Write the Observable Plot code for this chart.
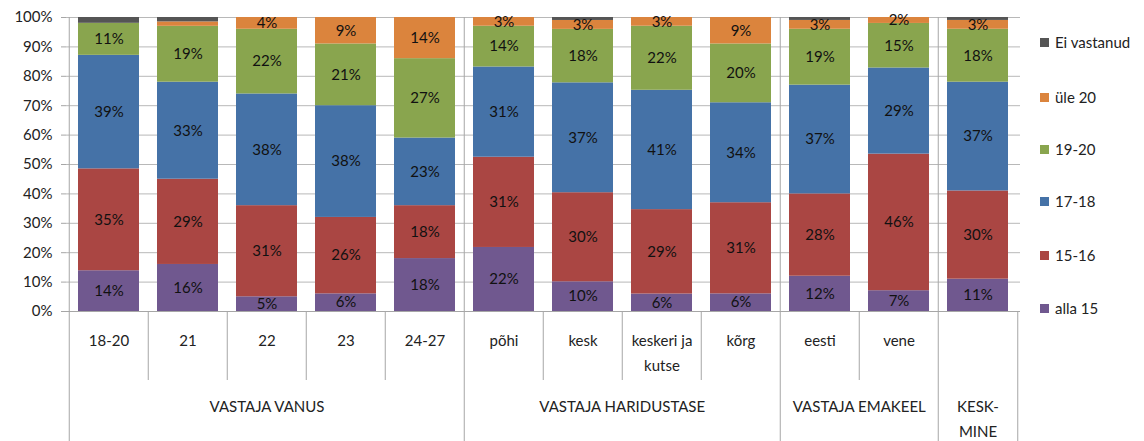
<!DOCTYPE html>
<html><head><meta charset="utf-8">
<script src="https://cdn.jsdelivr.net/npm/d3@7"></script>
<script src="https://cdn.jsdelivr.net/npm/@observablehq/plot@0.6"></script>
<style>
body{margin:0;background:#fff;font-family:Lato,sans-serif;}
#wrap{position:relative;width:1144px;height:441px;}
.li{position:absolute;left:1040px;height:18px;line-height:18px;white-space:nowrap;font-size:15px;color:#222;display:flex;align-items:center;}
.sw{width:9px;height:9px;margin-right:6px;display:inline-block;}
</style></head><body><div id="wrap"></div>
<script>
const categories = ["18-20","21","22","23","24-27","põhi","kesk","keskeri ja kutse","kõrg","eesti","vene","keskmine"];
const tickLabels = ["18-20","21","22","23","24-27","põhi","kesk","keskeri ja\nkutse","kõrg","eesti","vene",""];
const seriesNames = ["alla 15","15-16","17-18","19-20","üle 20","Ei vastanud"];
const seriesColors = ["#70588F","#AA4643","#4572A7","#89A54E","#DB843D","#555555"];
const alla15     = [14,16, 5, 6,18,22,10, 6, 6,12, 7,11];
const s15_16     = [35,29,31,26,18,31,30,29,31,28,46,30];
const s17_18     = [39,33,38,38,23,31,37,41,34,37,29,37];
const s19_20     = [11,19,22,21,27,14,18,22,20,19,15,18];
const yle20      = [ 0,1.5,4, 9,14, 3, 3, 3, 9, 3, 2, 3];
const eiVastanud = [ 2,1.5,0, 0, 0, 0, 1, 0, 0, 1, 0, 1];
const groupNames = ["VASTAJA VANUS","VASTAJA HARIDUSTASE","VASTAJA EMAKEEL","KESK-\nMINE"];
const groupFirst = [0,5,9,11];
const groupSize  = [5,4,2,1];

const seriesValues = [alla15, s15_16, s17_18, s19_20, yle20, eiVastanud];
const rows = [];
seriesNames.forEach((s, si) => categories.forEach((c, ci) => rows.push({cat: c, series: s, value: seriesValues[si][ci]})));

const W = 1144, H = 441, mL = 66, mR = 124, mT = 17, mB = 130;
const step = (W - mR - mL) / categories.length;
const px = (py) => (H - mB - py) / (H - mB - mT); // pixel row -> y value
const starts = new Set(groupFirst);
const longB = categories.filter((c, i) => starts.has(i));
const shortB = categories.filter((c, i) => !starts.has(i));
const groupLabels = groupNames.map((g, i) => ({name: g, cat: categories[groupFirst[i] + Math.floor(groupSize[i] / 2)], even: groupSize[i] % 2 === 0}));
const lineColor = "#a6a6a6";
const stackOpts = {offset: "normalize", order: seriesNames};

const chart = Plot.plot({
  width: W, height: H, marginLeft: mL, marginRight: mR, marginTop: mT, marginBottom: mB,
  style: {fontFamily: "Lato, sans-serif", fontSize: "15px", color: "#222", background: "#fff"},
  x: {domain: categories, paddingInner: 0.23, paddingOuter: 0.115, axis: null, label: null},
  y: {domain: [0, 1], axis: null, label: null},
  color: {domain: seriesNames, range: seriesColors},
  marks: [
    Plot.gridY({ticks: 10, stroke: "#b8b8b8", strokeOpacity: 1}),
    Plot.axisY({ticks: 10, label: null, tickFormat: d => Math.round(d * 100) + "%", tickSize: 5, tickPadding: 9, fontSize: 15, stroke: lineColor, strokeOpacity: 1, fill: "#222"}),
    Plot.barY(rows, Plot.stackY(stackOpts, {x: "cat", y: "value", z: "series", fill: "series"})),
    Plot.text(rows, Plot.stackY(stackOpts, {x: "cat", y: "value", z: "series",
      text: d => (d.series === "Ei vastanud" || d.value < 2) ? "" : Math.round(d.value) + "%",
      fontSize: 15, fill: "#111"})),
    Plot.ruleY([0], {stroke: lineColor}),
    Plot.ruleX(longB, {x: d => d, dx: -step / 2, y1: 1, y2: px(H), stroke: lineColor}),
    Plot.ruleX([categories[categories.length - 1]], {x: d => d, dx: step / 2, y1: 0, y2: px(H), stroke: lineColor}),
    Plot.ruleX(shortB, {x: d => d, dx: -step / 2, y1: 0, y2: px(380), stroke: lineColor}),
    Plot.text(categories, {x: d => d, y: px(328), text: (d, i) => tickLabels[i], lineAnchor: "top", lineHeight: 1.65, fontSize: 15, fill: "#222"}),
    Plot.text(groupLabels.filter(g => !g.even), {x: "cat", y: px(394), text: "name", lineAnchor: "top", lineHeight: 1.65, fontSize: 15, fill: "#222"}),
    Plot.text(groupLabels.filter(g => g.even), {x: "cat", dx: -step / 2, y: px(394), text: "name", lineAnchor: "top", lineHeight: 1.65, fontSize: 15, fill: "#222"})
  ]
});
const wrap = document.getElementById("wrap");
wrap.appendChild(chart);
const legendY = [42, 97, 149, 201, 255, 308];
seriesNames.slice().reverse().forEach((s, i) => {
  const div = document.createElement("div");
  div.className = "li";
  div.style.top = (legendY[i] - 9) + "px";
  const sw = document.createElement("span");
  sw.className = "sw";
  sw.style.background = seriesColors[seriesNames.indexOf(s)];
  div.appendChild(sw);
  div.appendChild(document.createTextNode(s));
  wrap.appendChild(div);
});
</script></body></html>
